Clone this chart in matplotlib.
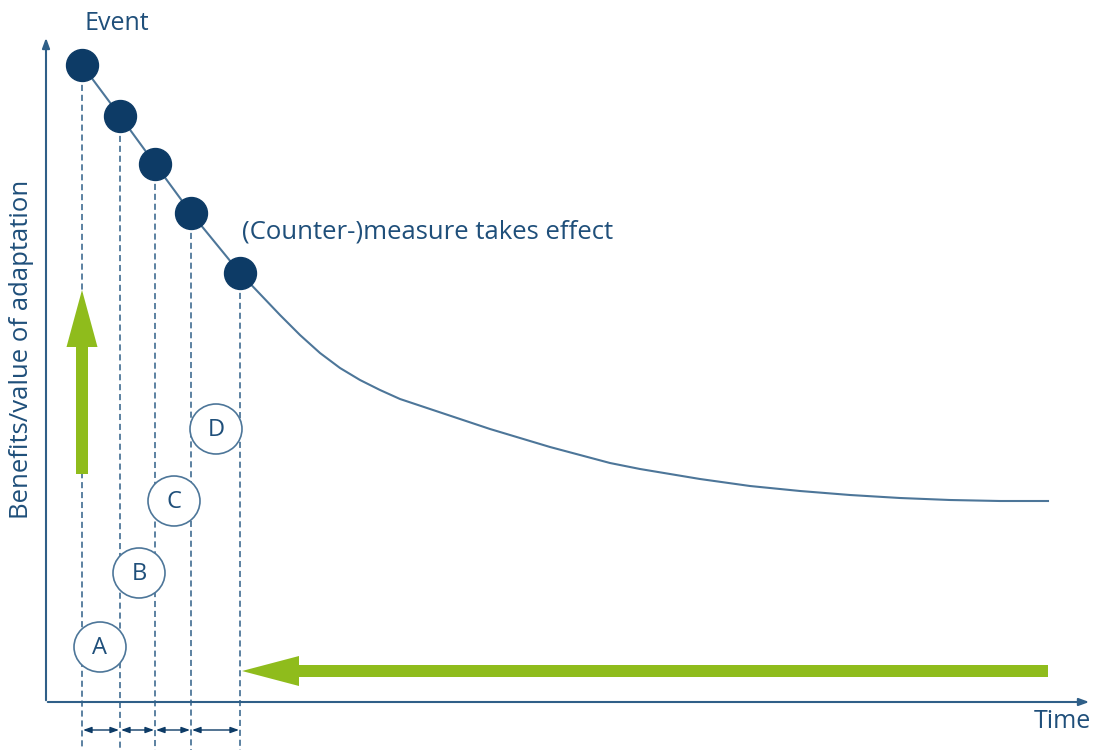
import matplotlib
matplotlib.use("Agg")
import matplotlib.pyplot as plt
from matplotlib.patches import Ellipse, FancyArrow

# ---- data (diagram coordinates: x = time, y = position from top) ----
event_x = [82, 120, 155, 191, 240]
event_y = [65, 116, 164, 213, 273]

curve_x = [240, 260, 280, 300, 320, 340, 360, 380, 400, 430, 460, 490, 520, 550,
           580, 610, 640, 670, 700, 750, 800, 850, 900, 950, 1000, 1048]
curve_y = [273, 294, 315, 335, 353, 368, 380, 390, 399, 409, 419, 429, 438, 447,
           455, 463, 469, 474, 479, 486, 491, 495, 498, 500, 501, 501]

phase_labels = ["A", "B", "C", "D"]
phase_x = [100, 139, 174, 216]
phase_y = [647, 573, 501, 429]

NAVY = "#0d3b66"
LINE = "#4d7699"
DASH = "#2f5f88"
TEXT = "#1f4f7a"
GREEN = "#8fbc1c"

plt.rcParams['font.family'] = ['Open Sans', 'DejaVu Sans']

fig = plt.figure(figsize=(11.01, 7.5), dpi=100)
ax = fig.add_axes([0, 0, 1, 1])
ax.set_xlim(0, 1101)
ax.set_ylim(750, 0)
ax.axis('off')

# axes with arrows
ax.annotate("", xy=(46, 35), xytext=(46, 703),
            arrowprops=dict(arrowstyle="-|>,head_length=0.6,head_width=0.22", color=DASH, lw=1.5))
ax.annotate("", xy=(1092, 702), xytext=(45, 702),
            arrowprops=dict(arrowstyle="-|>,head_length=0.6,head_width=0.22", color=DASH, lw=1.5))

# dashed verticals
for x, y in zip(event_x, event_y):
    ax.plot([x, x], [y, 752], ls=(0, (4, 2.5)), color=DASH, lw=1.1, zorder=1)

# decay line
ax.plot(event_x, event_y, color=LINE, lw=1.5, zorder=2)
ax.plot(curve_x, curve_y, color=LINE, lw=1.5, zorder=2, solid_joinstyle='round')
ax.plot(event_x, event_y, 'o', ms=23, color=NAVY, mec=NAVY, zorder=3)

# phase circles
for lab, x, y in zip(phase_labels, phase_x, phase_y):
    ax.add_patch(Ellipse((x, y), 52, 50, fill=True, fc='white', ec=LINE, lw=1.2, zorder=4))
    ax.text(x, y + 1, lab, ha='center', va='center', fontsize=17, color=TEXT, zorder=5)

# double-headed interval arrows
for x0, x1 in zip(event_x[:-1], event_x[1:]):
    ax.annotate("", xy=(x1 - 1, 730), xytext=(x0 + 1, 730),
                arrowprops=dict(arrowstyle="<|-|>,head_length=0.5,head_width=0.18",
                                color=NAVY, lw=1.0, shrinkA=0, shrinkB=0))

# green arrows
ax.add_patch(FancyArrow(82, 474, 0, -184, width=12, head_width=31, head_length=57,
                        length_includes_head=True, color=GREEN, lw=0, zorder=2))
ax.add_patch(FancyArrow(1048, 671, -806, 0, width=12, head_width=30, head_length=57,
                        length_includes_head=True, color=GREEN, lw=0, zorder=2))

# texts
ax.text(117, 24, "Event", ha='center', va='center', fontsize=18, color=TEXT)
ax.text(242, 232, "(Counter-)measure takes effect", ha='left', va='center', fontsize=18.5, color=TEXT)
ax.text(22, 349, "Benefits/value of adaptation", ha='center', va='center',
        rotation=90, fontsize=18.5, color=TEXT)
ax.text(1062, 721, "Time", ha='center', va='center', fontsize=18, color=TEXT)

fig.savefig("out.png", dpi=100)
